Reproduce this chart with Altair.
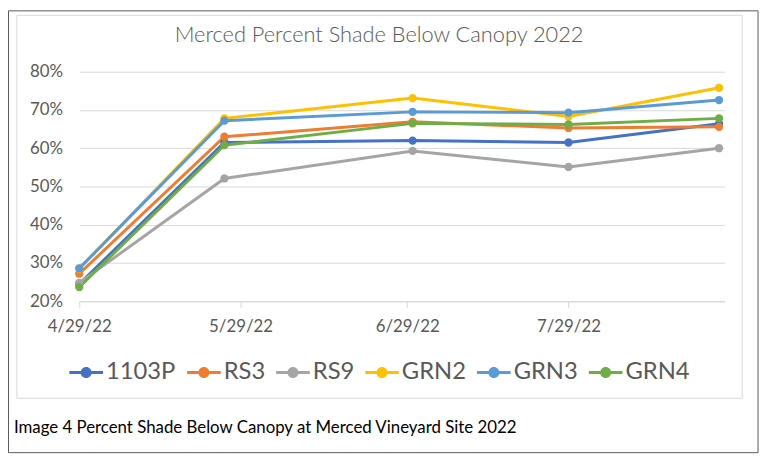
import altair as alt
import pandas as pd

dates = ["2022/04/29", "2022/05/26", "2022/06/30", "2022/07/29", "2022/08/26"]
series = ["1103P", "RS3", "RS9", "GRN2", "GRN3", "GRN4"]
colors = ["#4472C4", "#ED7D31", "#A5A5A5", "#FFC000", "#5B9BD5", "#70AD47"]

v_1103P = [0.245, 0.615, 0.620, 0.615, 0.664]
v_RS3 = [0.272, 0.630, 0.669, 0.653, 0.656]
v_RS9 = [0.248, 0.521, 0.593, 0.551, 0.600]
v_GRN2 = [0.285, 0.678, 0.731, 0.683, 0.758]
v_GRN3 = [0.286, 0.672, 0.695, 0.693, 0.726]
v_GRN4 = [0.237, 0.608, 0.665, 0.662, 0.678]

tick_dates = [(2022, 4, 29), (2022, 5, 29), (2022, 6, 29), (2022, 7, 29)]
y_ticks = [0.2, 0.3, 0.4, 0.5, 0.6, 0.7, 0.8]

title_text = "Merced Percent Shade Below Canopy 2022"
caption_text = "Image 4 Percent Shade Below Canopy at Merced Vineyard Site 2022"

rows = []
for s, vals in zip(series, [v_1103P, v_RS3, v_RS9, v_GRN2, v_GRN3, v_GRN4]):
    for d, v in zip(dates, vals):
        rows.append({"date": d, "series": s, "value": v})
df = pd.DataFrame(rows)
deco = pd.DataFrame({"k": [0]})

FONT = "Lato"
GRAY = "#595959"

x_enc = alt.X(
    "date:T",
    scale=alt.Scale(domain=[alt.DateTime(year=2022, month=4, date=29),
                            alt.DateTime(year=2022, month=8, date=27)]),
    axis=alt.Axis(
        values=[alt.DateTime(year=y, month=m, date=d) for (y, m, d) in tick_dates],
        format="%-m/%-d/%y", title=None, grid=False,
        domainColor="#d9d9d9", tickColor="#d9d9d9", tickSize=6,
        labelFontSize=17, labelColor=GRAY, labelFont=FONT, labelPadding=12,
        labelFlush=False, labelOverlap=False,
    ),
)
y_enc = alt.Y(
    "value:Q",
    scale=alt.Scale(domain=[0.2, 0.8], nice=False),
    axis=alt.Axis(
        values=y_ticks, format=".0%", title=None, domain=False, ticks=False,
        gridColor="#d9d9d9", labelFontSize=17, labelColor=GRAY, labelFont=FONT,
        labelPadding=17,
    ),
)
sym = ("M-1,-0.09H1V0.09H-1Z "
       "M0.33,0A0.33,0.33 0 1,1 -0.33,0A0.33,0.33 0 1,1 0.33,0Z")
color_enc = alt.Color(
    "series:N",
    scale=alt.Scale(domain=series, range=colors),
    legend=alt.Legend(
        orient="none", legendX=-10, legendY=287, direction="horizontal",
        title=None, symbolType=sym, symbolSize=1156, symbolStrokeWidth=0,
        symbolOpacity=1, labelFontSize=24, labelFont=FONT, labelColor=GRAY,
        columnPadding=11, labelOffset=3, padding=0,
    ),
)

outer = alt.Chart(deco).mark_rect(fill="transparent", stroke="#595959", strokeWidth=1).encode(
    x=alt.value(-71.5), x2=alt.value(686), y=alt.value(-61.5), y2=alt.value(385))
inner = alt.Chart(deco).mark_rect(fill="transparent", stroke="#d9d9d9", strokeWidth=1).encode(
    x=alt.value(-63), x2=alt.value(670), y=alt.value(-57), y2=alt.value(330))

lines = alt.Chart(df).mark_line(strokeWidth=3).encode(x=x_enc, y=y_enc, color=color_enc)
points = alt.Chart(df).mark_point(filled=True, size=70, opacity=1).encode(
    x=x_enc, y=y_enc, color=color_enc)

title = alt.Chart(deco).mark_text(
    text=title_text, font=FONT, fontSize=22, fontWeight=300, color=GRAY,
    align="center", baseline="alphabetic").encode(x=alt.value(303), y=alt.value(-30))
caption = alt.Chart(deco).mark_text(
    text=caption_text, font=FONT, fontSize=17, color="black",
    align="left", baseline="alphabetic").encode(x=alt.value(-66), y=alt.value(365))

chart = alt.layer(outer, inner, lines, points, title, caption).properties(
    width=652, height=232,
    autosize=alt.AutoSizeParams(type="none"),
    padding={"left": 72, "top": 62, "right": 38, "bottom": 156},
    background="white",
).configure_view(strokeWidth=0)

chart.save("out.html", embed_options={"renderer": "svg", "actions": False})
